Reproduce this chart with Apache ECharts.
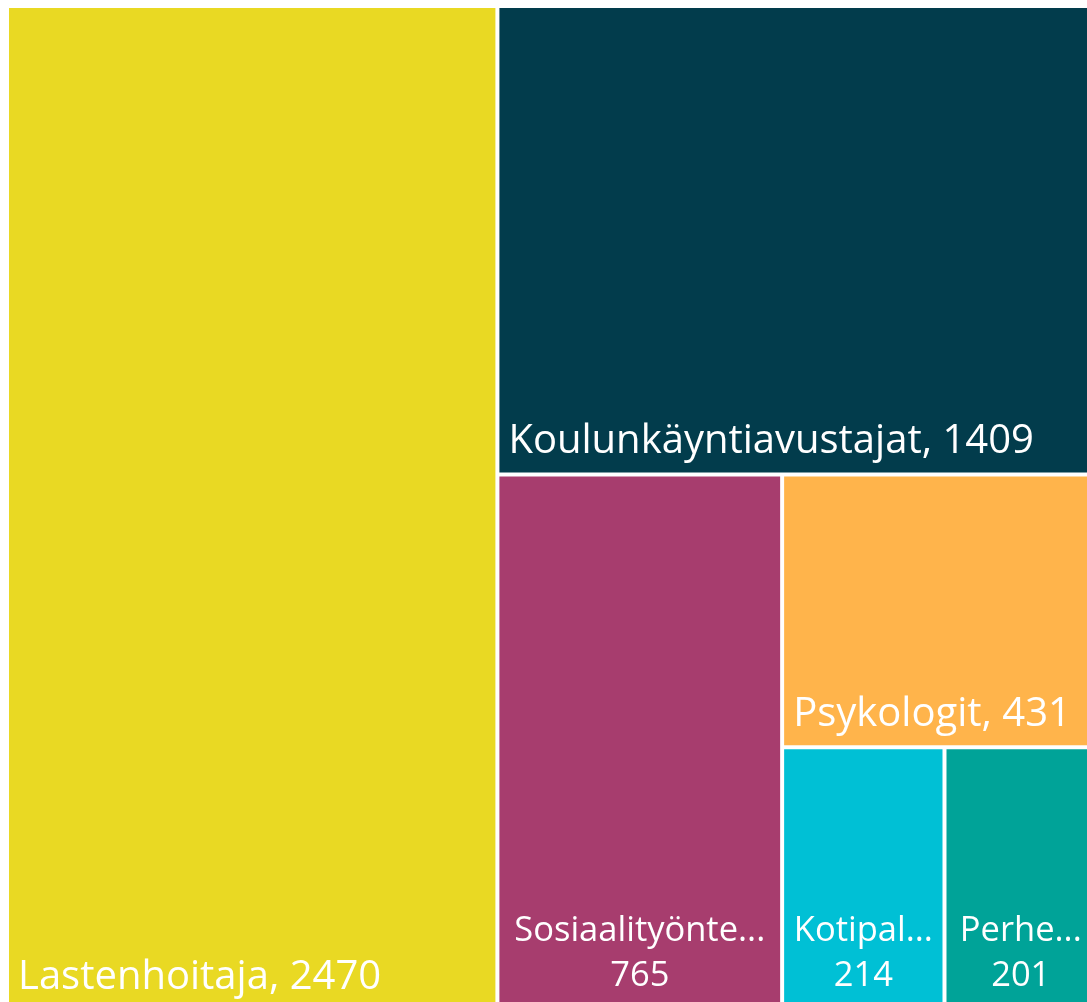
<!DOCTYPE html>
<html>
<head>
<meta charset="utf-8">
<script src="https://cdn.jsdelivr.net/npm/echarts@6/dist/echarts.min.js"></script>
<style>
  html, body { margin: 0; padding: 0; background: #fff; }
  #chart { width: 1087px; height: 1002px; }
</style>
</head>
<body>
<div id="chart"></div>
<script>
  // ammattiryhmät ja määrät
  const names = ['Lastenhoitaja', 'Koulunkäyntiavustajat', 'Sosiaalityönte...', 'Psykologit', 'Kotipal...', 'Perhe...']
  const values = [2470, 1409, 765, 431, 214, 201]
  const colors = ['#E9D923', '#023C4C', '#A73D6E', '#FFB44B', '#00C0D5', '#00A398']

  // pienissä laatikoissa nimi ja arvo kahdella rivillä
  const stacked = ['Sosiaalityönte...', 'Kotipal...', 'Perhe...']

  const font = 'Open Sans'
  const data = names.map((name, i) => {
    const twoLines = stacked.indexOf(name) >= 0
    return {
      name: name,
      value: values[i],
      itemStyle: { color: colors[i] },
      label: twoLines ? {
        position: 'insideBottom',
        distance: 4,
        align: 'center',
        formatter: '{b}\n{c}',
        fontSize: 34.5,
        lineHeight: 45
      } : {
        position: 'insideBottomLeft',
        distance: 8,
        padding: [0, 0, 0, 1],
        formatter: '{b}, {c}',
        fontSize: 40,
        lineHeight: 45
      }
    }
  })

  let chart = echarts.init(document.getElementById('chart'))
  chart.setOption({
    animation: false,
    series: [{
      type: 'treemap',
      left: 9,
      top: 8,
      width: 1086,
      height: 1000,
      squareRatio: 1,
      roam: false,
      nodeClick: false,
      breadcrumb: { show: false },
      label: {
        show: true,
        color: '#fff',
        fontFamily: font,
        overflow: 'none'
      },
      levels: [{
        itemStyle: { borderWidth: 0, gapWidth: 4 }
      }],
      data: data
    }]
  })
</script>
</body>
</html>
